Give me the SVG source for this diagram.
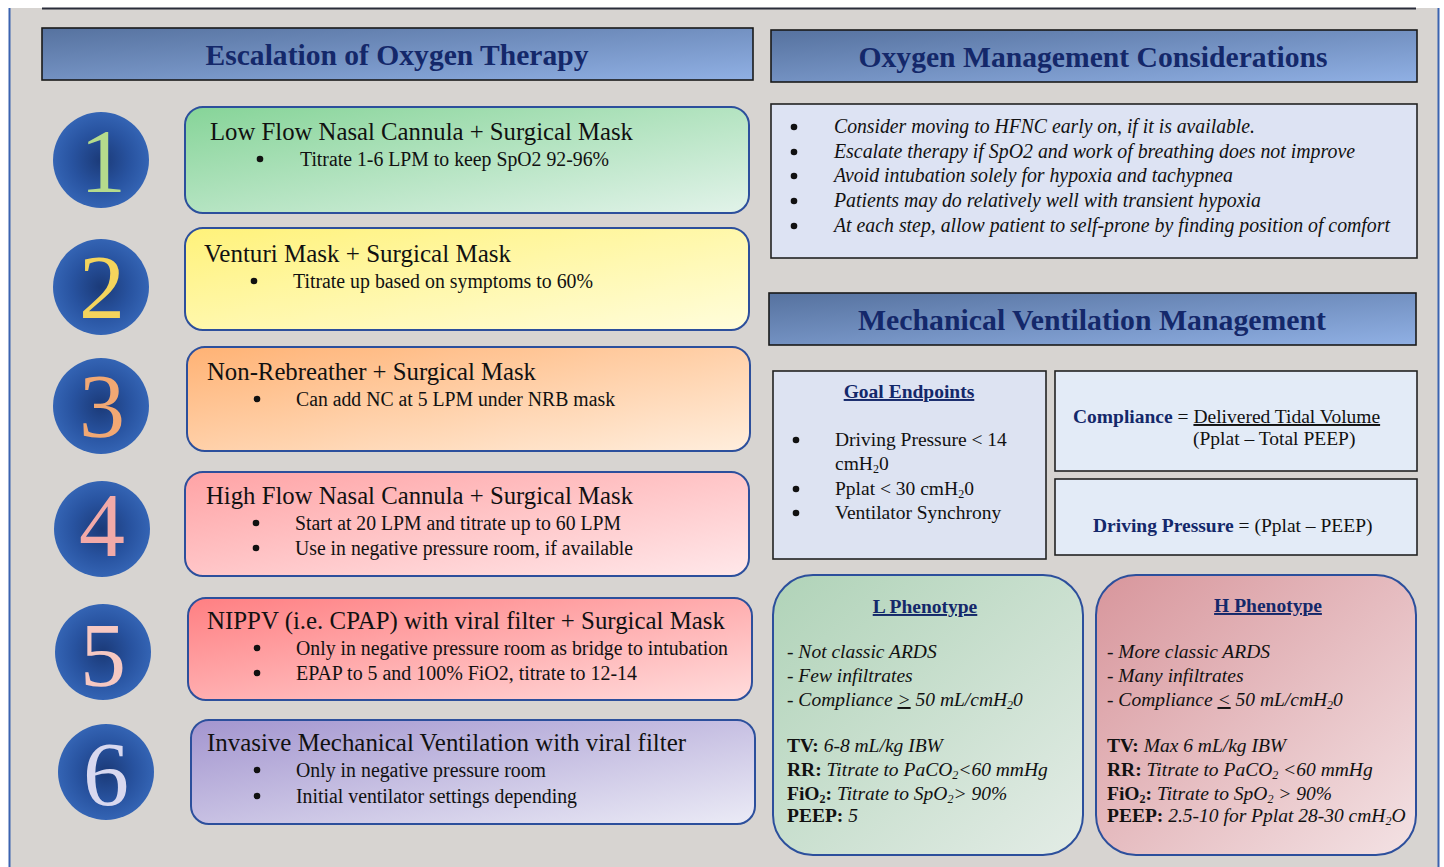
<svg xmlns="http://www.w3.org/2000/svg" width="1444" height="867" viewBox="0 0 1444 867">
<defs>
<style>
.t{font-family:"Liberation Serif","Times New Roman",serif;fill:#111;}
.hd{font-family:"Liberation Serif","Times New Roman",serif;font-weight:bold;font-size:30px;fill:#14286a;text-anchor:middle;}
.ttl{font-size:25px;}
.bl{font-size:19.5px;}
.sm{font-size:20px;}
.it{font-style:italic;}
.num{font-family:"Liberation Serif","Times New Roman",serif;font-size:92px;text-anchor:middle;}
.step{stroke:#2c4f9c;stroke-width:2;}
.hbox{stroke:#1a1a1a;stroke-width:1.6;fill:url(#gHead);}
.pbox{stroke:#222;stroke-width:1.6;}
.nv{fill:#14286a;font-weight:bold;}
.ph{stroke:#2c4f9c;stroke-width:2;}
.dot{fill:#111;}
</style>
<linearGradient id="gHead" x1="0" y1="0" x2="1" y2="1"><stop offset="0" stop-color="#56729f"/><stop offset="1" stop-color="#90b0e4"/></linearGradient>
<radialGradient id="gCirc" cx="0.5" cy="0.5" r="0.5"><stop offset="0" stop-color="#1b3a78"/><stop offset="0.6" stop-color="#2853a0"/><stop offset="1" stop-color="#3464b4"/></radialGradient>
<linearGradient id="g1" x1="0" y1="0" x2="1" y2="1"><stop offset="0" stop-color="#86d498"/><stop offset="1" stop-color="#e2f3ea"/></linearGradient>
<linearGradient id="g2" x1="0" y1="0" x2="1" y2="1"><stop offset="0" stop-color="#fff27a"/><stop offset="1" stop-color="#fffddc"/></linearGradient>
<linearGradient id="g3" x1="0" y1="0" x2="1" y2="1"><stop offset="0" stop-color="#ffb274"/><stop offset="1" stop-color="#ffeedd"/></linearGradient>
<linearGradient id="g4" x1="0" y1="0" x2="1" y2="1"><stop offset="0" stop-color="#ffa3a5"/><stop offset="1" stop-color="#ffe8ea"/></linearGradient>
<linearGradient id="g5" x1="0" y1="0" x2="1" y2="1"><stop offset="0" stop-color="#ff7f82"/><stop offset="1" stop-color="#ffdcdc"/></linearGradient>
<linearGradient id="g6" x1="0" y1="0" x2="1" y2="1"><stop offset="0" stop-color="#a395cf"/><stop offset="1" stop-color="#ebebf6"/></linearGradient>
<linearGradient id="gL" x1="0" y1="0" x2="1" y2="1"><stop offset="0" stop-color="#b0d3b8"/><stop offset="1" stop-color="#e3ece6"/></linearGradient>
<linearGradient id="gH" x1="0" y1="0" x2="1" y2="1"><stop offset="0" stop-color="#d8969c"/><stop offset="1" stop-color="#f3e2e4"/></linearGradient>
</defs>

<rect x="0" y="0" width="1444" height="867" fill="#ffffff"/>
<rect x="10" y="8" width="1428" height="859" fill="#d7d4d1"/>
<line x1="9.5" y1="8" x2="9.5" y2="867" stroke="#3b63b0" stroke-width="2"/>
<line x1="1438.5" y1="8" x2="1438.5" y2="867" stroke="#3b63b0" stroke-width="2"/>
<line x1="42" y1="8.5" x2="1416" y2="8.5" stroke="#2a2d3a" stroke-width="2"/>

<g id="header-escalation">
<rect class="hbox" x="42" y="28" width="711" height="52"/>
<text class="hd" x="397" y="65" textLength="383" lengthAdjust="spacingAndGlyphs">Escalation of Oxygen Therapy</text>
</g>

<g id="step1">
<circle cx="101" cy="160" r="48" fill="url(#gCirc)"/>
<text class="num" x="103" y="192" fill="#b5db8c">1</text>
<rect class="step" x="185" y="107" width="564" height="106" rx="18" fill="url(#g1)"/>
<text class="t ttl" x="210" y="140" textLength="423" lengthAdjust="spacingAndGlyphs">Low Flow Nasal Cannula + Surgical Mask</text>
<circle class="dot" cx="260" cy="159" r="3.3"/>
<text class="t sm" x="300" y="166" textLength="309" lengthAdjust="spacingAndGlyphs">Titrate 1-6 LPM to keep SpO2 92-96%</text>
</g>

<g id="step2">
<circle cx="101" cy="287" r="48" fill="url(#gCirc)"/>
<text class="num" x="102" y="318" fill="#f4d45c">2</text>
<rect class="step" x="185" y="228" width="564" height="102" rx="18" fill="url(#g2)"/>
<text class="t ttl" x="204" y="262" textLength="307" lengthAdjust="spacingAndGlyphs">Venturi Mask + Surgical Mask</text>
<circle class="dot" cx="254" cy="281" r="3.3"/>
<text class="t sm" x="293" y="288" textLength="300" lengthAdjust="spacingAndGlyphs">Titrate up based on symptoms to 60%</text>
</g>

<g id="step3">
<circle cx="101" cy="406" r="48" fill="url(#gCirc)"/>
<text class="num" x="102" y="437" fill="#f2a873">3</text>
<rect class="step" x="187" y="347" width="563" height="104" rx="18" fill="url(#g3)"/>
<text class="t ttl" x="207" y="380" textLength="329" lengthAdjust="spacingAndGlyphs">Non-Rebreather + Surgical Mask</text>
<circle class="dot" cx="257" cy="399" r="3.3"/>
<text class="t sm" x="296" y="406" textLength="319" lengthAdjust="spacingAndGlyphs">Can add NC at 5 LPM under NRB mask</text>
</g>

<g id="step4">
<circle cx="102" cy="529" r="48" fill="url(#gCirc)"/>
<text class="num" x="102" y="556" fill="#f2aaa8">4</text>
<rect class="step" x="185" y="472" width="564" height="104" rx="18" fill="url(#g4)"/>
<text class="t ttl" x="206" y="504" textLength="427" lengthAdjust="spacingAndGlyphs">High Flow Nasal Cannula + Surgical Mask</text>
<circle class="dot" cx="256" cy="523" r="3.3"/>
<text class="t sm" x="295" y="530" textLength="326" lengthAdjust="spacingAndGlyphs">Start at 20 LPM and titrate up to 60 LPM</text>
<circle class="dot" cx="256" cy="548" r="3.3"/>
<text class="t sm" x="295" y="555" textLength="338" lengthAdjust="spacingAndGlyphs">Use in negative pressure room, if available</text>
</g>

<g id="step5">
<circle cx="103" cy="652" r="48" fill="url(#gCirc)"/>
<text class="num" x="103" y="686" fill="#f6c8c2">5</text>
<rect class="step" x="188" y="598" width="564" height="102" rx="18" fill="url(#g5)"/>
<text class="t ttl" x="207" y="629" textLength="518" lengthAdjust="spacingAndGlyphs">NIPPV (i.e. CPAP) with viral filter + Surgical Mask</text>
<circle class="dot" cx="257" cy="648" r="3.3"/>
<text class="t sm" x="296" y="655" textLength="432" lengthAdjust="spacingAndGlyphs">Only in negative pressure room as bridge to intubation</text>
<circle class="dot" cx="257" cy="673" r="3.3"/>
<text class="t sm" x="296" y="680" textLength="341" lengthAdjust="spacingAndGlyphs">EPAP to 5 and 100% FiO2, titrate to 12-14</text>
</g>

<g id="step6">
<circle cx="106" cy="772" r="48" fill="url(#gCirc)"/>
<text class="num" x="106" y="805" fill="#d8d8ef">6</text>
<rect class="step" x="191" y="720" width="564" height="104" rx="18" fill="url(#g6)"/>
<text class="t ttl" x="207" y="751" textLength="479" lengthAdjust="spacingAndGlyphs">Invasive Mechanical Ventilation with viral filter</text>
<circle class="dot" cx="257" cy="770" r="3.3"/>
<text class="t sm" x="296" y="777" textLength="250" lengthAdjust="spacingAndGlyphs">Only in negative pressure room</text>
<circle class="dot" cx="257" cy="796" r="3.3"/>
<text class="t sm" x="296" y="803" textLength="281" lengthAdjust="spacingAndGlyphs">Initial ventilator settings depending</text>
</g>

<g id="header-considerations">
<rect class="hbox" x="771" y="30" width="646" height="52"/>
<text class="hd" x="1093" y="67" textLength="469" lengthAdjust="spacingAndGlyphs">Oxygen Management Considerations</text>
</g>

<g id="considerations">
<rect class="pbox" x="771" y="104" width="646" height="154" fill="#dde3f3"/>
<circle class="dot" cx="794" cy="127" r="3.3"/>
<circle class="dot" cx="794" cy="152" r="3.3"/>
<circle class="dot" cx="794" cy="176" r="3.3"/>
<circle class="dot" cx="794" cy="201" r="3.3"/>
<circle class="dot" cx="794" cy="226" r="3.3"/>
<g class="t sm it">
<text x="834" y="133" textLength="421" lengthAdjust="spacingAndGlyphs">Consider moving to HFNC early on, if it is available.</text>
<text x="834" y="158" textLength="521" lengthAdjust="spacingAndGlyphs">Escalate therapy if SpO2 and work of breathing does not improve</text>
<text x="834" y="182" textLength="399" lengthAdjust="spacingAndGlyphs">Avoid intubation solely for hypoxia and tachypnea</text>
<text x="834" y="207" textLength="427" lengthAdjust="spacingAndGlyphs">Patients may do relatively well with transient hypoxia</text>
<text x="834" y="232" textLength="556" lengthAdjust="spacingAndGlyphs">At each step, allow patient to self-prone by finding position of comfort</text>
</g>
</g>

<g id="header-mechanical">
<rect class="hbox" x="769" y="293" width="647" height="52"/>
<text class="hd" x="1092" y="330" textLength="468" lengthAdjust="spacingAndGlyphs">Mechanical Ventilation Management</text>
</g>

<g id="goal-endpoints">
<rect class="pbox" x="773" y="371" width="273" height="188" fill="#dde3f2"/>
<text class="t bl nv" x="909" y="398" text-anchor="middle" text-decoration="underline">Goal Endpoints</text>
<circle class="dot" cx="796" cy="440" r="3.3"/>
<circle class="dot" cx="796" cy="489" r="3.3"/>
<circle class="dot" cx="796" cy="513" r="3.3"/>
<g class="t bl">
<text x="835" y="446">Driving Pressure &lt; 14</text>
<text x="835" y="470">cmH<tspan font-size="12" dy="3">2</tspan><tspan dy="-3">0</tspan></text>
<text x="835" y="495">Pplat &lt; 30 cmH<tspan font-size="12" dy="3">2</tspan><tspan dy="-3">0</tspan></text>
<text x="835" y="519">Ventilator Synchrony</text>
</g>
</g>

<g id="compliance">
<rect class="pbox" x="1055" y="371" width="362" height="100" fill="#e3ebf7"/>
<text class="t bl" x="1073" y="423"><tspan class="nv">Compliance</tspan> = <tspan text-decoration="underline">Delivered Tidal Volume</tspan></text>
<text class="t bl" x="1193" y="445">(Pplat – Total PEEP)</text>
</g>

<g id="driving-pressure">
<rect class="pbox" x="1055" y="479" width="362" height="76" fill="#e3ebf7"/>
<text class="t bl" x="1093" y="532"><tspan class="nv">Driving Pressure</tspan> = (Pplat – PEEP)</text>
</g>

<g id="l-phenotype">
<rect class="ph" x="773" y="575" width="310" height="280" rx="40" fill="url(#gL)"/>
<text class="t bl nv" x="925" y="613" text-anchor="middle" text-decoration="underline">L Phenotype</text>
<g class="t bl it">
<text x="787" y="658">- Not classic ARDS</text>
<text x="787" y="682">- Few infiltrates</text>
<text x="787" y="706">- Compliance <tspan text-decoration="underline">&gt;</tspan> 50 mL/cmH<tspan font-size="12" dy="3">2</tspan><tspan dy="-3">0</tspan></text>
</g>
<g class="t bl">
<text x="787" y="752"><tspan font-weight="bold">TV:</tspan> <tspan font-style="italic">6-8 mL/kg IBW</tspan></text>
<text x="787" y="776"><tspan font-weight="bold">RR:</tspan> <tspan font-style="italic">Titrate to PaCO<tspan font-size="12" dy="3">2</tspan><tspan dy="-3">&lt;60 mmHg</tspan></tspan></text>
<text x="787" y="800"><tspan font-weight="bold">FiO<tspan font-size="12" dy="3">2</tspan><tspan dy="-3">:</tspan></tspan> <tspan font-style="italic">Titrate to SpO<tspan font-size="12" dy="3">2</tspan><tspan dy="-3">&gt; 90%</tspan></tspan></text>
<text x="787" y="822"><tspan font-weight="bold">PEEP:</tspan> <tspan font-style="italic">5</tspan></text>
</g>
</g>

<g id="h-phenotype">
<rect class="ph" x="1096" y="575" width="320" height="280" rx="40" fill="url(#gH)"/>
<text class="t bl nv" x="1268" y="612" text-anchor="middle" text-decoration="underline">H Phenotype</text>
<g class="t bl it">
<text x="1107" y="658">- More classic ARDS</text>
<text x="1107" y="682">- Many infiltrates</text>
<text x="1107" y="706">- Compliance <tspan text-decoration="underline">&lt;</tspan> 50 mL/cmH<tspan font-size="12" dy="3">2</tspan><tspan dy="-3">0</tspan></text>
</g>
<g class="t bl">
<text x="1107" y="752"><tspan font-weight="bold">TV:</tspan> <tspan font-style="italic">Max 6 mL/kg IBW</tspan></text>
<text x="1107" y="776"><tspan font-weight="bold">RR:</tspan> <tspan font-style="italic">Titrate to PaCO<tspan font-size="12" dy="3">2</tspan><tspan dy="-3"> &lt;60 mmHg</tspan></tspan></text>
<text x="1107" y="800"><tspan font-weight="bold">FiO<tspan font-size="12" dy="3">2</tspan><tspan dy="-3">:</tspan></tspan> <tspan font-style="italic">Titrate to SpO<tspan font-size="12" dy="3">2</tspan><tspan dy="-3"> &gt; 90%</tspan></tspan></text>
<text x="1107" y="822"><tspan font-weight="bold">PEEP:</tspan> <tspan font-style="italic">2.5-10 for Pplat 28-30 cmH<tspan font-size="12" dy="3">2</tspan><tspan dy="-3">O</tspan></tspan></text>
</g>
</g>

<g id="connectors"></g>
</svg>
